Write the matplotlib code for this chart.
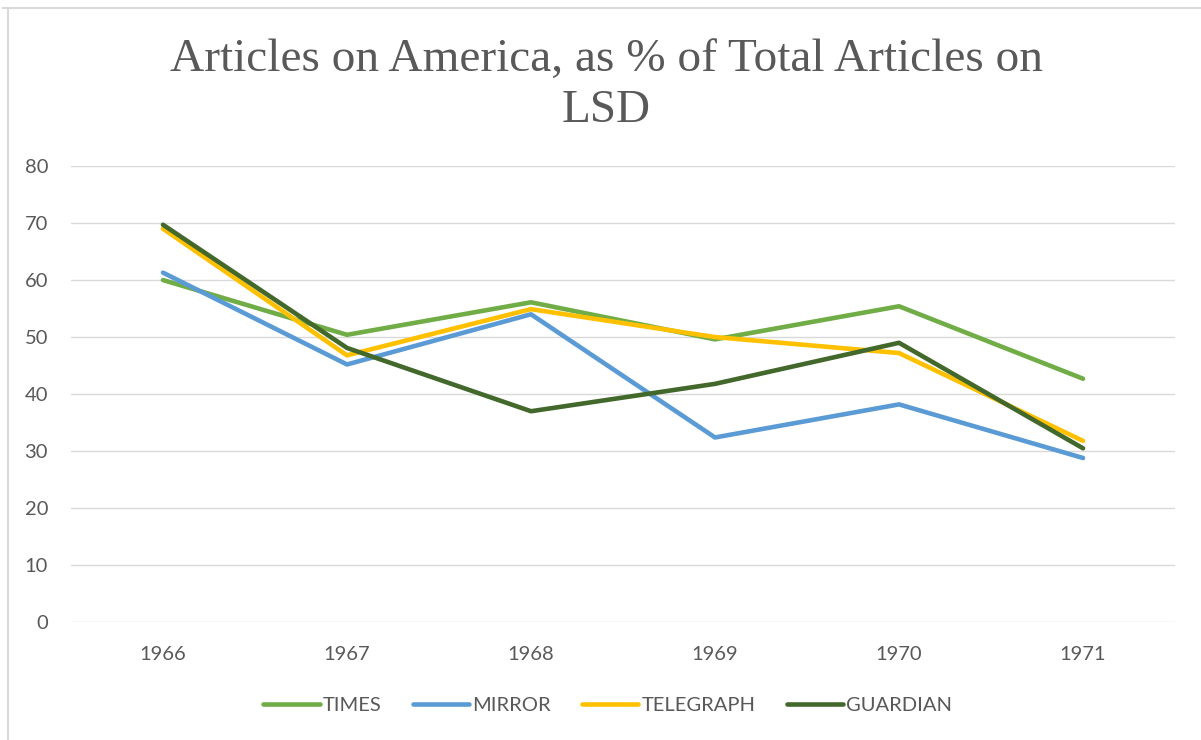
import matplotlib.pyplot as plt
from matplotlib.lines import Line2D

# Share of LSD articles that were about America, by newspaper and year
years = ["1966", "1967", "1968", "1969", "1970", "1971"]
times = [60.0, 50.4, 56.1, 49.6, 55.4, 42.7]
mirror = [61.3, 45.2, 54.0, 32.4, 38.2, 28.8]
telegraph = [69.0, 46.8, 54.9, 50.0, 47.2, 31.8]
guardian = [69.7, 48.1, 37.0, 41.8, 49.0, 30.5]

series = [
    ("TIMES", times, "#70AD47"),
    ("MIRROR", mirror, "#5B9BD5"),
    ("TELEGRAPH", telegraph, "#FFC000"),
    ("GUARDIAN", guardian, "#43682B"),
]

text_gray = "#595959"
grid_gray = "#D9D9D9"
plt.rcParams["font.family"] = ["Lato", "DejaVu Sans"]

fig = plt.figure(figsize=(12.01, 7.40), dpi=100)
ax = fig.add_axes([0.0591, 0.1591, 0.9193, 0.6166])

x = range(len(years))
for name, values, color in series:
    ax.plot(x, values, color=color, linewidth=3.3, label=name,
            solid_capstyle="round", solid_joinstyle="round")

ax.set_xlim(-0.5, len(years) - 0.5)
ax.set_ylim(0, 80)
ax.set_yticks(range(0, 81, 10))
ax.set_xticks(list(x))
ax.set_xticklabels(years)
ax.yaxis.grid(True, color=grid_gray, linewidth=1.0)
ax.set_axisbelow(True)
for side in ax.spines.values():
    side.set_visible(False)
ax.tick_params(axis="both", length=0, labelsize=14.5, labelcolor=text_gray)
ax.tick_params(axis="y", pad=16.5)
ax.tick_params(axis="x", pad=17)

fig.text(0.505, 0.885, "Articles on America, as % of Total Articles on\nLSD",
         ha="center", va="center", fontsize=34, color=text_gray,
         family="Liberation Serif", linespacing=1.26)

handles = [Line2D([0], [0], color=c, linewidth=3.3, solid_capstyle="round")
           for _, _, c in series]
leg = fig.legend(handles, [n for n, _, _ in series], loc="center",
                 bbox_to_anchor=(0.506, 0.047), ncol=4, frameon=False,
                 fontsize=14.5, handlelength=2.8, handletextpad=0.15,
                 columnspacing=1.55)
for t in leg.get_texts():
    t.set_color(text_gray)

# thin frame along the top and left edges
fig.add_artist(Line2D([3 / 1201, 1], [1 - 7.5 / 740, 1 - 7.5 / 740],
                      color=grid_gray, linewidth=1.5, transform=fig.transFigure))
fig.add_artist(Line2D([8 / 1201, 8 / 1201], [0, 1 - 7.5 / 740],
                      color=grid_gray, linewidth=1.5, transform=fig.transFigure))

fig.savefig("out.png", dpi=100, facecolor="white")
